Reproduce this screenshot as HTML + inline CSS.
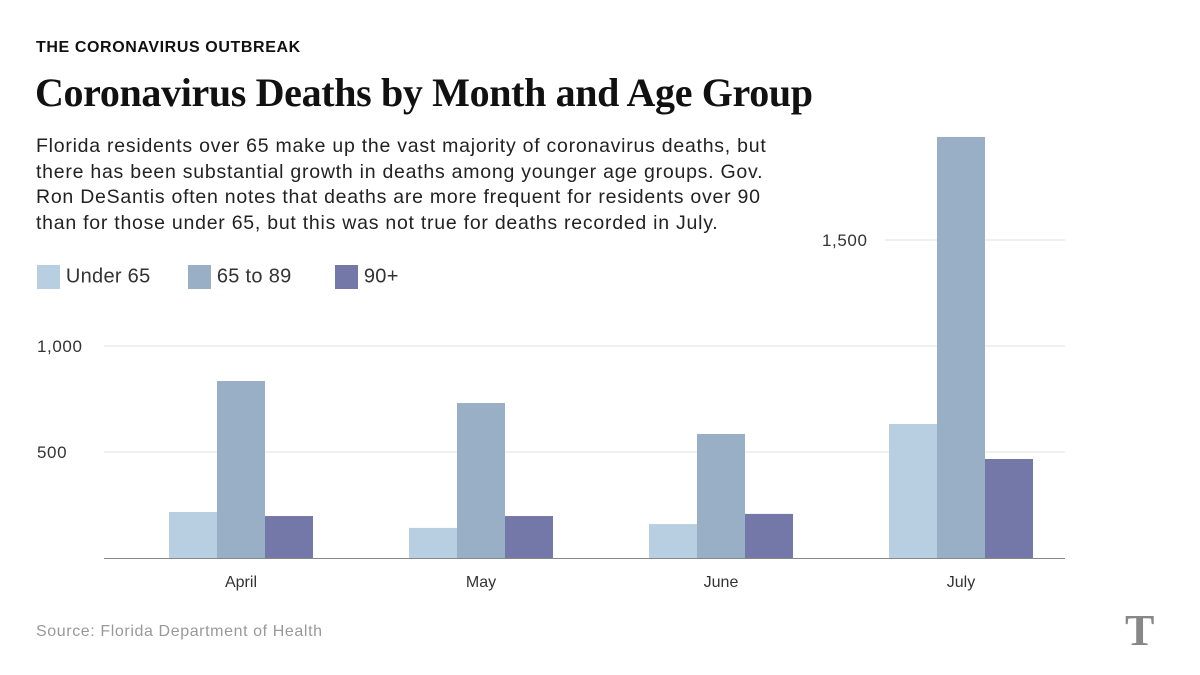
<!DOCTYPE html>
<html><head><meta charset="utf-8"><style>
body{margin:0;width:1200px;height:675px;background:#fff;overflow:hidden;font-family:"Liberation Sans",sans-serif;position:relative}
.a{position:absolute;margin:0}
</style></head><body>
<div class="a" style="left:36px;top:39px;font-size:16px;font-weight:bold;color:#111;letter-spacing:0.6px">THE CORONAVIRUS OUTBREAK</div>
<div class="a" style="left:35px;top:69px;font-family:'Liberation Serif',serif;font-size:40px;font-weight:bold;color:#111;letter-spacing:-0.35px">Coronavirus Deaths by Month and Age Group</div>
<div class="a" style="left:36px;top:134px;font-size:19.5px;line-height:25.5px;color:#222;width:800px;letter-spacing:0.75px;white-space:nowrap">Florida residents over 65 make up the vast majority of coronavirus deaths, but<br>there has been substantial growth in deaths among younger age groups. Gov.<br>Ron DeSantis often notes that deaths are more frequent for residents over 90<br>than for those under 65, but this was not true for deaths recorded in July.</div>
<div class="a" style="left:37px;top:265px;font-size:20px;color:#333;letter-spacing:0.3px">
<span style="position:absolute;left:0;top:0;white-space:nowrap"><span style="display:inline-block;width:23px;height:24px;background:#b7cfe0;vertical-align:middle"></span> Under 65</span>
<span style="position:absolute;left:151px;top:0;white-space:nowrap"><span style="display:inline-block;width:23px;height:24px;background:#98afc5;vertical-align:middle"></span> 65 to 89</span>
<span style="position:absolute;left:298px;top:0;white-space:nowrap"><span style="display:inline-block;width:23px;height:24px;background:#7478a8;vertical-align:middle"></span> 90+</span>
</div>
<svg class="a" style="left:0;top:0" width="1200" height="675" id="chart"></svg>
<div class="a" style="left:36px;top:623px;font-size:16px;color:#999;letter-spacing:0.6px">Source: Florida Department of Health</div>
<div class="a" style="left:1125px;top:605px;font-family:'Liberation Serif',serif;font-size:44px;font-weight:bold;color:#888">T</div>
<script>
const months=["April","May","June","July"];
const under65=[217,142,160,632];
const age65to89=[835,731,585,1986];
const age90plus=[198,198,208,467];
const ticks=[500,1000,1500];
const tickLabels=["500","1,000","1,500"];
const svg=document.getElementById('chart');
const NS='http://www.w3.org/2000/svg';
const y0=558,pxPer=106/500;
const y=v=>y0-v*pxPer;
const xc=i=>241+i*240;
function mk(t,a){const e=document.createElementNS(NS,t);for(const k in a)e.setAttribute(k,a[k]);svg.appendChild(e);return e;}
ticks.forEach((t,i)=>{
  const last=i===ticks.length-1;
  const g=mk('line',{x1:last?885:104,x2:1065,y1:y(t),y2:y(t),stroke:'#e2e2e2','stroke-width':1});
  
  
  const tx=mk('text',{x:last?822:37,y:y(t)+6,'font-size':17,fill:'#333','letter-spacing':'0.6','font-family':'Liberation Sans, sans-serif'});
  tx.textContent=tickLabels[i];
  
  
});
const series=[[under65,'#b7cfe0','under-65'],[age65to89,'#98afc5','65-to-89'],[age90plus,'#7478a8','90-plus']];
months.forEach((m,i)=>{
  series.forEach((s,j)=>{
    const v=s[0][i];
    const r=mk('rect',{x:xc(i)-72+j*48,y:y(v),width:48,height:v*pxPer,fill:s[1]});
    
    
  });
  const t=mk('text',{x:xc(i),y:587,'text-anchor':'middle','font-size':16,fill:'#333','font-family':'Liberation Sans, sans-serif'});
  t.textContent=m;
  
  
});
const ax=mk('line',{x1:104,x2:1065,y1:y0+0.5,y2:y0+0.5,stroke:'#888','stroke-width':1});


</script>
</body></html>
